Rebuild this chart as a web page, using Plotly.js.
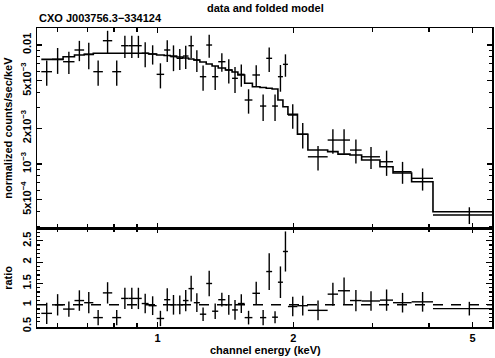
<!DOCTYPE html>
<html>
<head>
<meta charset="utf-8">
<script src="https://cdn.plot.ly/plotly-3.0.1.min.js"></script>
<style>
  html, body { margin: 0; padding: 0; background: #fff; }
  #plot { width: 495px; height: 358px; }
</style>
</head>
<body>
<div id="plot"></div>
<script>
// channel bin edges (keV), 45 bins
const binEdges = [0.552, 0.583, 0.617, 0.654, 0.687, 0.720, 0.756, 0.793, 0.830, 0.862,
  0.891, 0.922, 0.955, 0.995, 1.034, 1.067, 1.102, 1.138, 1.171, 1.203,
  1.241, 1.282, 1.321, 1.363, 1.414, 1.463, 1.507, 1.560, 1.623, 1.687,
  1.742, 1.795, 1.849, 1.897, 1.946, 2.043, 2.155, 2.384, 2.513, 2.672,
  2.836, 3.114, 3.329, 3.661, 4.083, 5.750];

// normalized counts/sec/keV
const countRate = [5.97e-3, 7.58e-3, 7.24e-3, 9.08e-3, 8.35e-3, 5.97e-3, 1.087e-2, 5.97e-3, 9.87e-3, 9.87e-3,
  9.87e-3, 8.52e-3, 8.40e-3, 5.67e-3, 9.08e-3, 7.98e-3, 7.73e-3, 8.08e-3, 9.87e-3, 7.48e-3,
  5.42e-3, 1.0e-2, 5.42e-3, 7.24e-3, 6.17e-3, 5.25e-3, 5.67e-3, 3.45e-3, 5.60e-3, 3.07e-3,
  7.73e-3, 3.07e-3, 5.42e-3, 6.88e-3, 2.58e-3, 1.78e-3, 1.15e-3, 1.59e-3, 1.59e-3, 1.31e-3,
  1.15e-3, 1.045e-3, 8.62e-4, 7.58e-4, 3.73e-4];

const countErr = [1.43e-3, 1.86e-3, 1.53e-3, 1.76e-3, 2.08e-3, 1.43e-3, 2.30e-3, 1.43e-3, 2.08e-3, 2.08e-3,
  2.08e-3, 2.03e-3, 1.55e-3, 1.35e-3, 1.87e-3, 1.95e-3, 1.55e-3, 1.78e-3, 2.08e-3, 1.55e-3,
  1.30e-3, 2.2e-3, 1.23e-3, 1.28e-3, 1.43e-3, 1.29e-3, 1.2e-3, 0.8e-3, 1.17e-3, 0.77e-3,
  1.8e-3, 0.77e-3, 1.37e-3, 1.47e-3, 0.6e-3, 0.43e-3, 0.27e-3, 0.37e-3, 0.37e-3, 0.30e-3,
  0.24e-3, 0.25e-3, 0.18e-3, 0.16e-3, 0.06e-3];

// folded model, one value per bin
const modelRate = [7.58e-3, 7.58e-3, 7.98e-3, 8.24e-3, 8.35e-3, 8.52e-3, 8.52e-3, 8.52e-3, 8.52e-3, 8.52e-3,
  8.52e-3, 8.52e-3, 8.40e-3, 8.24e-3, 8.16e-3, 8.08e-3, 7.93e-3, 7.78e-3, 7.63e-3, 7.48e-3,
  7.20e-3, 6.93e-3, 6.66e-3, 6.41e-3, 6.17e-3, 5.93e-3, 5.60e-3, 4.77e-3, 4.46e-3, 4.39e-3,
  4.33e-3, 4.27e-3, 3.45e-3, 3.03e-3, 2.62e-3, 1.78e-3, 1.31e-3, 1.27e-3, 1.21e-3, 1.19e-3,
  1.08e-3, 9.49e-4, 8.41e-4, 7.10e-4, 3.97e-4];

// data / model
const ratio = [0.80, 1.00, 0.90, 1.10, 1.05, 0.70, 1.28, 0.70, 1.15, 1.15,
  1.15, 1.03, 0.98, 0.68, 1.12, 1.00, 1.00, 1.10, 1.38, 1.05,
  0.78, 1.50, 0.85, 1.12, 1.00, 0.88, 1.03, 0.70, 1.27, 0.70,
  1.78, 0.71, 1.53, 2.25, 0.96, 0.98, 0.87, 1.25, 1.33, 1.10,
  1.09, 1.11, 1.05, 1.07, 0.91];

const ratioErr = [0.25, 0.25, 0.18, 0.24, 0.25, 0.18, 0.25, 0.18, 0.25, 0.25,
  0.25, 0.23, 0.22, 0.18, 0.27, 0.23, 0.22, 0.25, 0.30, 0.22,
  0.16, 0.30, 0.18, 0.16, 0.23, 0.23, 0.22, 0.16, 0.27, 0.18,
  0.43, 0.14, 0.37, 0.47, 0.23, 0.23, 0.23, 0.27, 0.31, 0.25,
  0.23, 0.25, 0.23, 0.23, 0.16];

const specTickVals = [5e-4, 1e-3, 2e-3, 5e-3, 0.01];
const specTickText = ['5x10<sup>−4</sup>', '10<sup>−3</sup>', '2x10<sup>−3</sup>', '5x10<sup>−3</sup>', '0.01'];
const energyTickVals = [1, 2, 5];
const energyTickText = ['1', '2', '5'];

const centers = [], halfWidths = [];
for (let k = 0; k < binEdges.length - 1; k++) {
  centers.push((binEdges[k] + binEdges[k + 1]) / 2);
  halfWidths.push((binEdges[k + 1] - binEdges[k]) / 2);
}
const modelSteps = modelRate.concat([modelRate[modelRate.length - 1]]);

const ink = '#000';
const errStyle = (arr) => ({ type: 'data', array: arr, visible: true, width: 0, thickness: 1.4, color: ink });

const traces = [
  { x: binEdges, y: modelSteps, xaxis: 'x2', yaxis: 'y', mode: 'lines',
    line: { shape: 'hv', color: ink, width: 1.6 }, hoverinfo: 'skip' },
  { x: centers, y: countRate, xaxis: 'x2', yaxis: 'y', mode: 'markers',
    marker: { size: 1, color: ink }, error_x: errStyle(halfWidths), error_y: errStyle(countErr) },
  { x: centers, y: ratio, xaxis: 'x', yaxis: 'y2', mode: 'markers',
    marker: { size: 1, color: ink }, error_x: errStyle(halfWidths), error_y: errStyle(ratioErr) }
];

const font = { family: 'Liberation Sans, Arial, sans-serif', size: 11, color: ink, weight: 'bold' };
const frame = { showline: true, linecolor: ink, linewidth: 1.5, mirror: 'allticks', ticks: 'inside',
  tickcolor: ink, tickwidth: 1.2, showgrid: false, zeroline: false };
const xRange = [Math.log10(0.54), Math.log10(5.52)];
const minorX = { tickmode: 'array', tickvals: [0.6, 0.7, 0.8, 0.9, 3, 4], ticklen: 4, ticks: 'inside', tickcolor: ink, tickwidth: 1.2 };

const layout = {
  width: 495, height: 358,
  margin: { l: 37, r: 3, t: 28, b: 31 },
  paper_bgcolor: '#fff', plot_bgcolor: '#fff',
  showlegend: false, font: font,
  xaxis: Object.assign({}, frame, {
    type: 'log', range: xRange, anchor: 'y2',
    tickmode: 'array', tickvals: energyTickVals, ticktext: energyTickText, ticklen: 5, minor: minorX
  }),
  xaxis2: Object.assign({}, frame, {
    type: 'log', range: xRange, anchor: 'y', matches: 'x', showticklabels: false,
    tickmode: 'array', tickvals: energyTickVals, ticklen: 5, minor: minorX
  }),
  yaxis: Object.assign({}, frame, {
    type: 'log', domain: [0.331, 1], range: [-3.538, -1.857], anchor: 'x2',
    tickmode: 'array', tickvals: specTickVals, ticktext: specTickText, ticklen: 5, tickangle: -90,
    minor: { tickmode: 'array', tickvals: [3e-4, 4e-4, 6e-4, 7e-4, 8e-4, 9e-4, 3e-3, 4e-3, 6e-3, 7e-3, 8e-3, 9e-3],
      ticklen: 3, ticks: 'inside', tickcolor: ink, tickwidth: 1.2 }
  }),
  yaxis2: Object.assign({}, frame, {
    domain: [0, 0.331], range: [0.48, 2.8], anchor: 'x',
    tickmode: 'array', tickvals: [0.5, 1, 1.5, 2, 2.5], ticklen: 6, tickangle: -90,
    minor: { dtick: 0.1, ticklen: 3, ticks: 'inside', tickcolor: ink, tickwidth: 1.2 }
  }),
  shapes: [
    { type: 'line', xref: 'x domain', yref: 'y2', x0: 0, x1: 1, y0: 1, y1: 1,
      line: { color: ink, width: 1.4, dash: '10px,8px' }, layer: 'below' }
  ],
  annotations: [
    { text: 'data and folded model', xref: 'paper', yref: 'paper', x: 0.503, y: 1.067,
      xanchor: 'center', yanchor: 'middle', showarrow: false },
    { text: 'CXO J003756.3−334124', xref: 'paper', yref: 'paper', x: 0, y: 1.033,
      xanchor: 'left', yanchor: 'middle', showarrow: false },
    { text: 'normalized counts/sec/keV', xref: 'paper', yref: 'paper', x: -0.064, y: 0.666,
      xanchor: 'center', yanchor: 'middle', textangle: -90, showarrow: false },
    { text: 'ratio', xref: 'paper', yref: 'paper', x: -0.064, y: 0.164,
      xanchor: 'center', yanchor: 'middle', textangle: -90, showarrow: false },
    { text: 'channel energy (keV)', xref: 'paper', yref: 'paper', x: 0.503, y: -0.077,
      xanchor: 'center', yanchor: 'middle', showarrow: false }
  ]
};

Plotly.newPlot('plot', traces, layout, { displayModeBar: false, staticPlot: true });
</script>
</body>
</html>
